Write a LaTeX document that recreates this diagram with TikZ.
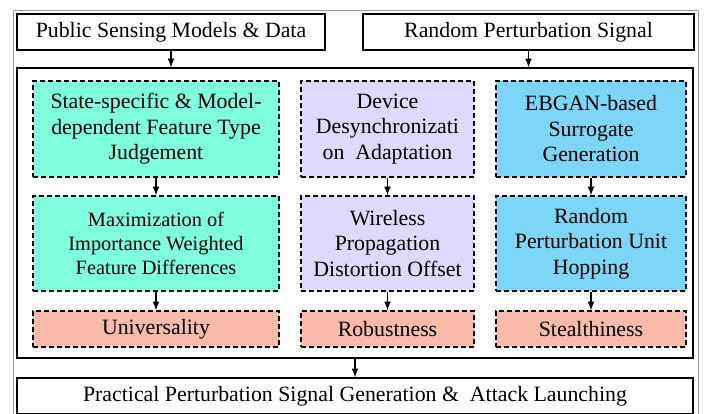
\documentclass[tikz,border=0pt]{standalone}
\usepackage{fontspec}
\setmainfont{Liberation Serif}
\usetikzlibrary{arrows}
\definecolor{featcol}{HTML}{7FFFDE}
\definecolor{chancol}{HTML}{DFD9FB}
\definecolor{gancol}{HTML}{7DD6F7}
\definecolor{goalcol}{HTML}{FABBAA}

\begin{document}
\begin{tikzpicture}[x=0.6pt,y=-0.6pt,
	plain/.style={draw,line width=0.8pt,inner sep=0pt,minimum height=21.6pt,font=\fontsize{13.1}{15.3}\selectfont},
	blk/.style={draw,dash pattern=on 3pt off 1.8pt,line width=0.75pt,inner sep=0pt,align=center,font=\fontsize{13.1}{15.3}\selectfont},
	arr/.style={-latex,line width=0.8pt}]
	\useasboundingbox (0,0) rectangle (710,413);
	\draw[gray!80,line width=0.6pt] (13,10) rectangle (698,440);
	% inputs
	\node[plain,minimum width=184.8pt] (pubdata) at (171,32) {Public Sensing Models \& Data};
	\node[plain,minimum width=198.6pt] (randsig) at (528.5,32) {Random Perturbation Signal};
	\node[plain,minimum width=405.6pt,minimum height=174pt] (core) at (355,213) {};
	% column 1
	\node[blk,fill=featcol,minimum width=147.6pt,minimum height=57.6pt] (feat) at (156,129) {State-specific \& Model-\\dependent Feature Type\\Judgement};
	\node[blk,fill=featcol,minimum width=147.6pt,minimum height=57pt,font=\fontsize{12.2}{14.5}\selectfont] (maxim) at (156,243.5) {Maximization of\\Importance Weighted\\Feature Differences};
	\node[blk,fill=goalcol,minimum width=147.6pt,minimum height=21.6pt] (univ) at (156,329) {Universality};
	% column 2
	\node[blk,fill=chancol,minimum width=103.8pt,minimum height=57.6pt] (desync) at (387.5,129) {Device\\Desynchronizati\\on\ \ Adaptation};
	\node[blk,fill=chancol,minimum width=103.8pt,minimum height=57pt] (wireless) at (387.5,243.5) {Wireless\\Propagation\\Distortion Offset};
	\node[blk,fill=goalcol,minimum width=103.8pt,minimum height=21.6pt] (robust) at (387.5,329) {Robustness};
	% column 3
	\node[blk,fill=gancol,minimum width=114pt,minimum height=57.6pt] (ebgan) at (591,129) {EBGAN-based\\Surrogate\\Generation};
	\node[blk,fill=gancol,minimum width=114pt,minimum height=57pt] (hopping) at (591,243.5) {Random\\Perturbation Unit\\Hopping};
	\node[blk,fill=goalcol,minimum width=114pt,minimum height=21.6pt] (stealth) at (591,329) {Stealthiness};
	% output
	\node[plain,minimum width=405.6pt] (launch) at (355,396) {Practical Perturbation Signal Generation \&\ \ Attack Launching};
	\draw[arr] (pubdata) -- (pubdata |- core.north);
	\draw[arr] (randsig) -- (randsig |- core.north);
	\draw[arr] (feat) -- (maxim);
	\draw[arr] (maxim) -- (univ);
	\draw[arr] (desync) -- (wireless);
	\draw[arr] (wireless) -- (robust);
	\draw[arr] (ebgan) -- (hopping);
	\draw[arr] (hopping) -- (stealth);
	\draw[arr] (core) -- (launch);
\end{tikzpicture}
\end{document}
